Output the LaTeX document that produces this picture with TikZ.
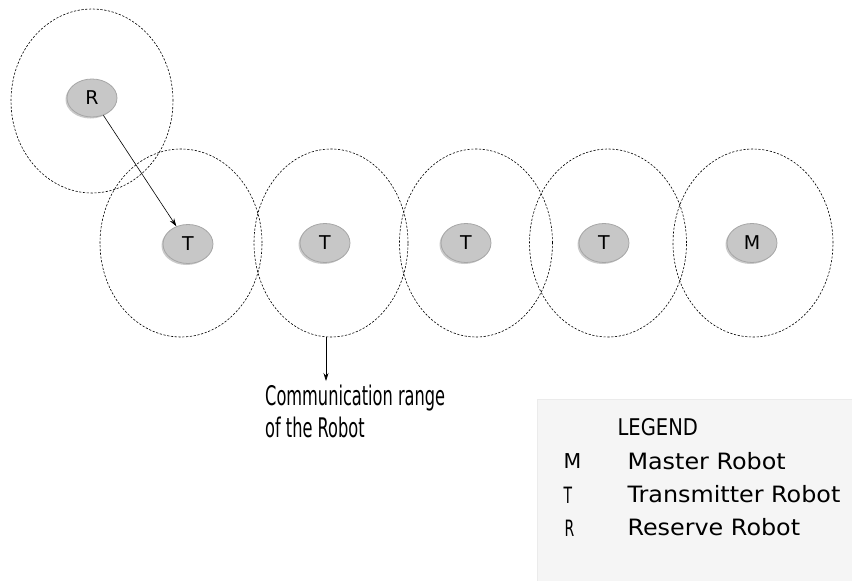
\documentclass[tikz,border=0pt]{standalone}
\usepackage{fontspec}
\setmainfont{DejaVu Sans}
\newfontfamily\condfont[FakeStretch=0.62]{DejaVu Sans}
\newfontfamily\narrowfont[FakeStretch=0.6]{DejaVu Sans}
\newfontfamily\legendfont[FakeStretch=0.85]{DejaVu Sans}
\newfontfamily\widefont[FakeStretch=1.06]{DejaVu Sans}
\usetikzlibrary{shadows,arrows.meta,shapes.geometric}
\tikzset{
  robot/.style={ellipse, draw=black!35, line width=0.8pt, fill=black!22,
    minimum width=50pt, minimum height=39pt, inner sep=0pt,
    font=\fontsize{19}{19}\selectfont,
    drop shadow={shadow xshift=-1.5pt, shadow yshift=-1.5pt, opacity=0.35, fill=black!60}},
  commrange/.style={ellipse, draw=black, dashed, dash pattern=on 2.2pt off 1.6pt, line width=0.6pt,
    inner sep=0pt},
  link/.style={-{Stealth[length=8pt,width=5pt]}, line width=0.6pt},
  note/.style={anchor=base west, inner sep=0pt, font=\narrowfont\fontsize{27}{27}\selectfont},
  legtext/.style={anchor=base west, font=\widefont\fontsize{22.5}{22.5}\selectfont},
  legkey/.style={anchor=base west, font=\fontsize{20.5}{20.5}\selectfont},
  legkeynarrow/.style={anchor=base west, font=\condfont\fontsize{22.5}{22.5}\selectfont}
}
\begin{document}
\begin{tikzpicture}[x=1pt,y=-1pt]
\useasboundingbox (0,0) rectangle (852,581);
% communication ranges
\node[commrange, minimum width=162pt, minimum height=184pt] (cR) at (92,101) {};
\node[commrange, minimum width=162pt, minimum height=188pt] (c1) at (181,243) {};
\node[commrange, minimum width=154pt, minimum height=188pt] (c2) at (331,243) {};
\node[commrange, minimum width=153pt, minimum height=188pt] (c3) at (476,243) {};
\node[commrange, minimum width=157pt, minimum height=188pt] (c4) at (608,243) {};
\node[commrange, minimum width=160pt, minimum height=188pt] (c5) at (753,243) {};
% robots
\node[robot, minimum width=50pt, minimum height=38pt] (R) at (92,98) {R};
\node[robot] (T1) at (188,244) {T};
\node[robot] (T2) at (325,243) {T};
\node[robot] (T3) at (466,243) {T};
\node[robot] (T4) at (604,243) {T};
\node[robot] (M) at (752,243) {M};
% arrows
\draw[link] (R) -- (T1);
\coordinate (lbl) at (326,381);
\draw[link] (lbl |- c2.south) -- (lbl);
\node[note] (txt1) at (265,405) {Communication range};
\node[note] (txt2) at (265,437) {of the Robot};
% legend
\node[draw=black!8, fill=black!4, minimum width=318pt, minimum height=184pt, anchor=north west, inner sep=0pt] (leg) at (537,399) {};
\node[anchor=base west, font=\legendfont\fontsize{23}{23}\selectfont] (lt) at (614,435) {LEGEND};
\node[legkey] (lM) at (560,468) {M};
\node[legtext] (dM) at (624,469) {Master Robot};
\node[legkeynarrow] (lT) at (560,503) {T};
\node[legtext] (dT) at (624,502) {Transmitter Robot};
\node[legkeynarrow] (lR) at (561,536) {R};
\node[legtext] (dR) at (624,535) {Reserve Robot};
\end{tikzpicture}
\end{document}
